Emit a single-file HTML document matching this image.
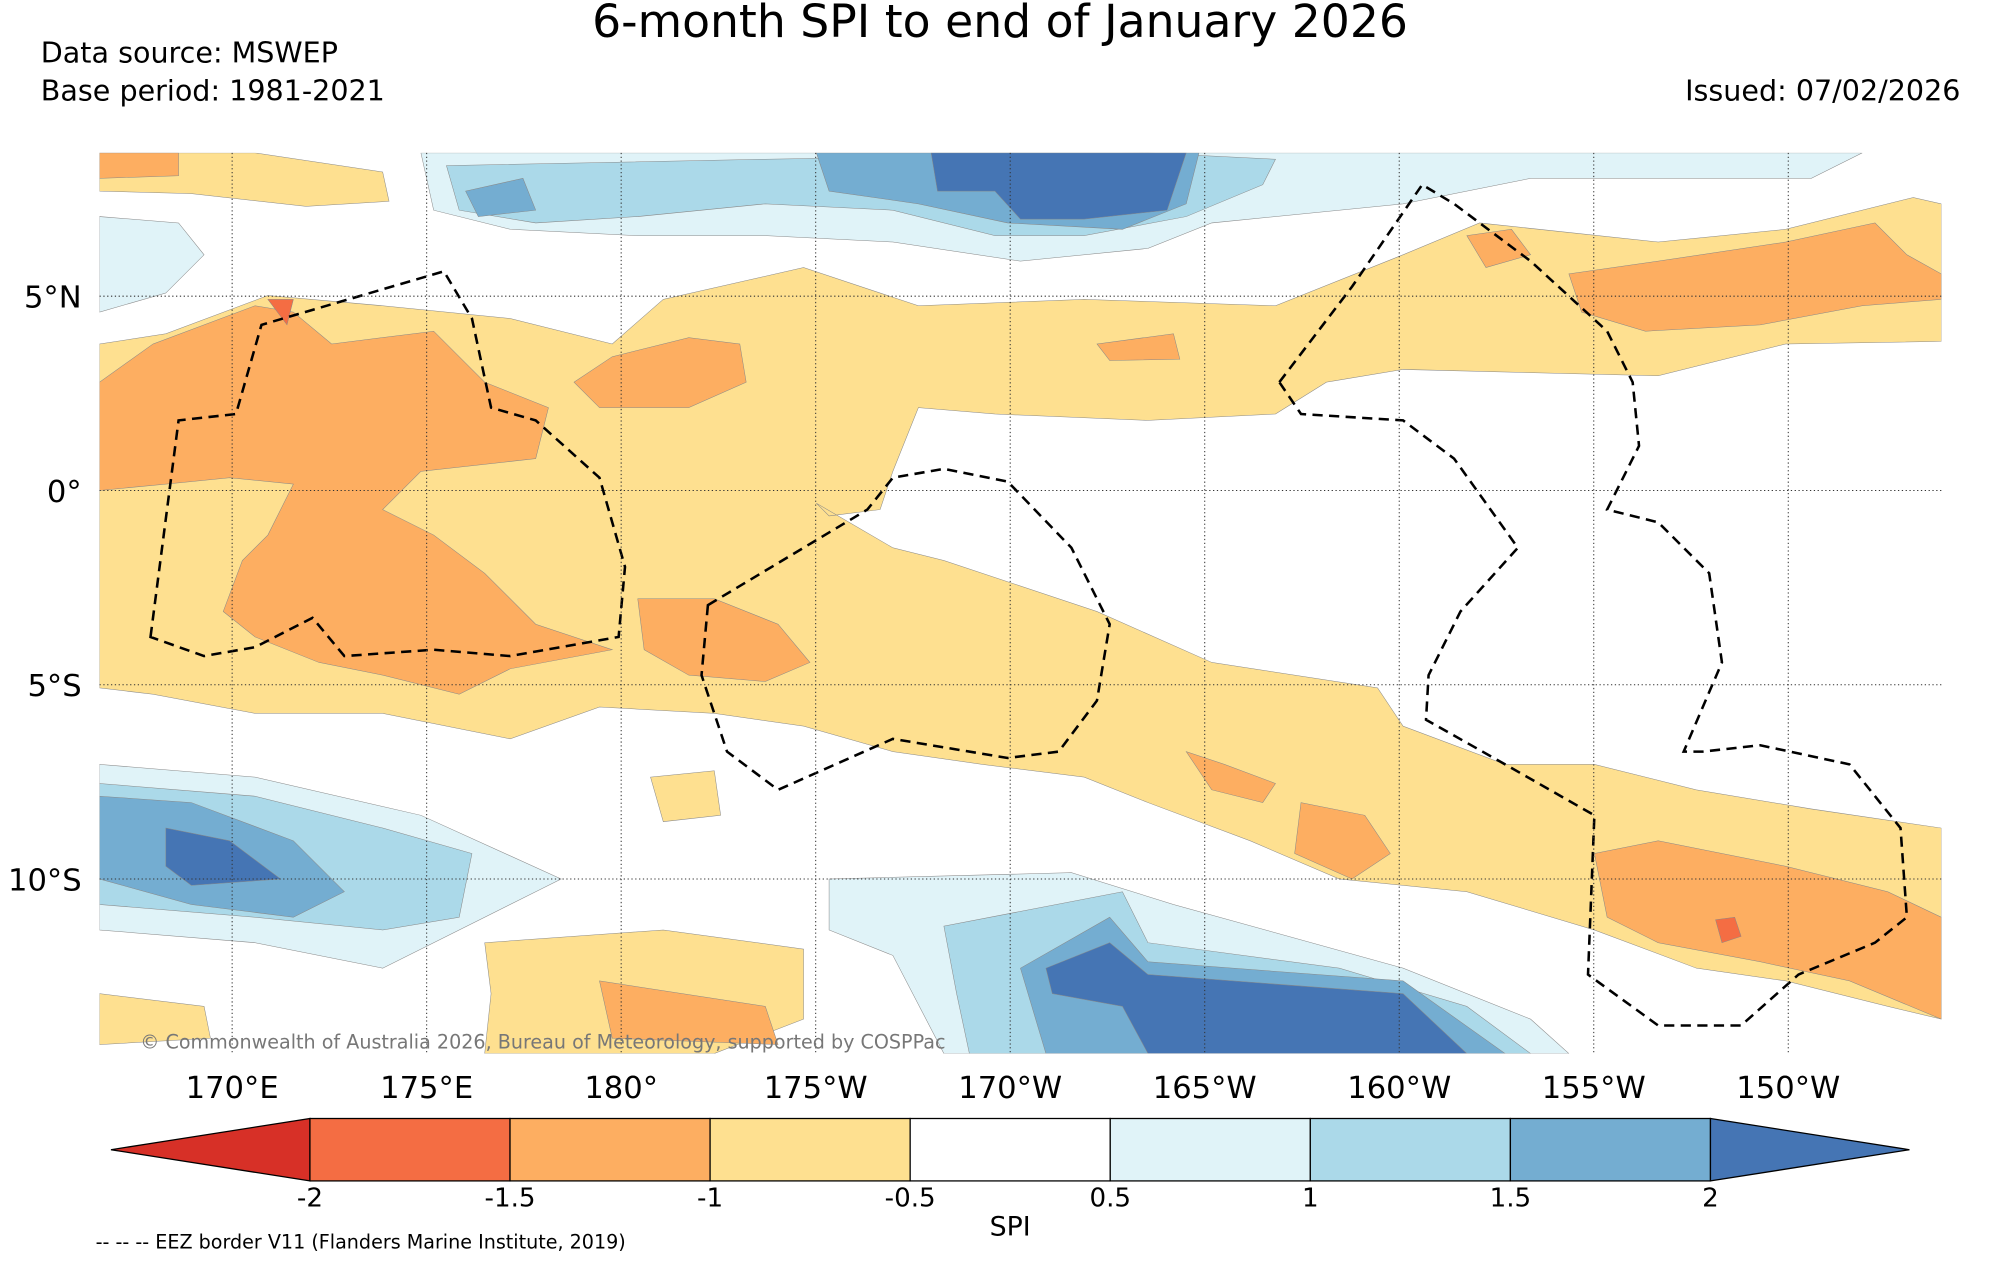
<!DOCTYPE html>
<html><head><meta charset="utf-8"><style>
html,body{margin:0;padding:0;background:#fff;}
svg{display:block;font-family:"DejaVu Sans","Liberation Sans",sans-serif;}
</style></head><body>
<svg id="chart" width="2000" height="1265" viewBox="0 0 1568 993" preserveAspectRatio="none" xmlns="http://www.w3.org/2000/svg">
<rect x="0" y="0" width="1568" height="993" fill="#fff"/>
<text x="784" y="29" font-size="35.8" text-anchor="middle">6-month SPI to end of January 2026</text>
<text x="32" y="49" font-size="22.4">Data source: MSWEP</text>
<text x="32" y="79" font-size="22.4">Base period: 1981-2021</text>
<text x="1537" y="79" font-size="22.4" text-anchor="end">Issued: 07/02/2026</text>
<defs><clipPath id="mapclip"><rect x="78" y="120" width="1444" height="707"/></clipPath></defs>
<g id="map" clip-path="url(#mapclip)"></g>
<g id="axes"></g>
<g id="colorbar"></g>
<text x="792" y="970" font-size="21" text-anchor="middle">SPI</text>
<text x="75" y="980" font-size="15">-- -- -- EEZ border V11 (Flanders Marine Institute, 2019)</text>
</svg>
<script>
const levels=[-2,-1.5,-1,-0.5,0.5,1,1.5,2];
const levelLabels=["-2","-1.5","-1","-0.5","0.5","1","1.5","2"];
const colors=["#d73027","#f46d43","#fdae61","#fee090","#ffffff","#e0f3f8","#abd9e9","#74add1","#4575b4"];
const lonTicks=[170,175,180,185,190,195,200,205,210];
const lonLabels=["170°E","175°E","180°","175°W","170°W","165°W","160°W","155°W","150°W"];
const latTicks=[5,0,-5,-10];
const latLabels=["5°N","0°","5°S","10°S"];
const NS="http://www.w3.org/2000/svg";
const lonX=l=>182+(l-170)*30.5;
const latY=l=>385-l*30.5;
const svg=document.getElementById('chart');
const map=document.getElementById('map');
function mk(t,a,p){const e=document.createElementNS(NS,t);for(const k in a)e.setAttribute(k,a[k]);(p||svg).appendChild(e);return e;}
const shapes=[
["#fee090","78,120 200,120 300,135 305,158 240,162 150,152 78,150"],
["#fdae61","78,120 140,120 140,138 78,140"],
["#e0f3f8","330,120 1460,120 1420,140 1200,140 1100,160 950,175 900,195 800,205 700,190 600,185 500,185 400,180 340,165"],
["#abd9e9","350,130 600,125 900,120 1000,125 990,145 930,170 850,185 780,185 700,165 600,160 500,170 420,175 360,165"],
["#74add1","640,120 940,120 930,160 880,180 790,175 720,160 650,150"],
["#74add1","365,150 410,140 420,165 375,170"],
["#4575b4","730,120 930,120 915,165 850,172 800,172 780,150 735,150"],
["#e0f3f8","78,170 140,175 160,200 130,230 78,245"],
["#fee090","78,270 130,262 210,232 300,240 400,250 480,270 520,235 630,210 720,240 850,235 1000,240 1100,200 1160,175 1300,190 1400,180 1500,155 1522,160 1522,268 1400,270 1300,295 1100,290 1040,300 1000,325 900,330 780,325 720,320 700,370 690,400 650,405 640,395 700,430 740,440 800,460 860,480 950,520 1080,540 1100,570 1180,600 1250,600 1330,620 1420,635 1522,650 1522,800 1480,790 1400,770 1330,760 1250,730 1150,700 1050,690 980,660 900,630 850,610 770,600 700,590 630,570 560,560 470,555 400,580 300,560 200,560 120,545 78,540"],
["#fdae61","78,300 120,270 200,240 230,245 260,270 340,260 380,300 430,320 420,360 330,370 300,400 340,420 380,450 420,490 480,510 400,525 360,545 300,530 250,520 200,500 175,480 190,440 210,420 230,380 180,375 130,380 78,385"],
["#fdae61","480,280 540,265 580,270 585,300 540,320 470,320 450,300"],
["#fdae61","500,470 560,470 610,490 635,520 600,535 540,530 505,510"],
["#fdae61","1020,630 1070,640 1090,670 1060,690 1015,670"],
["#fdae61","1250,670 1300,660 1400,680 1480,700 1522,720 1522,800 1450,770 1380,755 1300,740 1260,720"],
["#fdae61","1230,215 1300,205 1400,190 1470,175 1495,200 1522,215 1522,235 1460,240 1380,255 1290,260 1240,245"],
["#fdae61","1150,185 1185,180 1200,200 1165,210"],
["#fdae61","860,270 920,262 925,282 870,283"],
["#fdae61","930,590 960,600 1000,615 990,630 950,620"],
["#f46d43","1345,722 1360,720 1365,735 1350,740"],
["#f46d43","210,235 230,235 225,255"],
["#e0f3f8","78,600 200,610 330,640 440,690 380,720 300,760 200,740 78,730"],
["#abd9e9","78,615 200,625 300,650 370,670 360,720 300,730 200,720 78,710"],
["#74add1","78,625 150,630 230,660 270,700 230,720 150,710 78,690"],
["#4575b4","130,650 180,660 220,690 150,695 130,680"],
["#e0f3f8","650,690 840,685 920,710 1100,760 1200,800 1230,827 740,827 700,750 650,730"],
["#abd9e9","740,727 880,700 900,740 1050,760 1150,790 1200,827 760,827 750,780"],
["#74add1","800,760 870,720 900,755 1100,770 1180,827 820,827"],
["#4575b4","820,760 870,740 900,765 1100,780 1150,827 900,827 880,790 825,780"],
["#fee090","380,740 520,730 630,745 630,800 560,827 380,827 385,780"],
["#fdae61","470,770 600,790 610,820 480,815"],
["#fee090","78,780 160,790 165,815 78,820"],
["#fee090","510,610 560,605 565,640 520,645"]
];
shapes.forEach(s=>{const p=mk('polygon',{points:s[1],fill:s[0],stroke:'#888','stroke-width':0.4},map);

});
lonTicks.forEach((l,i)=>{const g=mk('line',{x1:lonX(l),x2:lonX(l),y1:120,y2:827,stroke:'#333','stroke-width':0.8,'stroke-dasharray':'1,2'});

const t=mk('text',{x:lonX(l),y:862,'font-size':24,'text-anchor':'middle'});t.textContent=lonLabels[i];
});
latTicks.forEach((l,i)=>{const g=mk('line',{x1:78,x2:1522,y1:latY(l),y2:latY(l),stroke:'#333','stroke-width':0.8,'stroke-dasharray':'1,2'});

const t=mk('text',{x:64,y:latY(l)+9,'font-size':24,'text-anchor':'end'});t.textContent=latLabels[i];
});
const eez=["118,500 140,330 185,325 205,255 348,213 370,250 385,320 420,330 470,375 490,445 485,500 400,515 340,510 270,515 245,485 200,508 160,515 118,500",
"555,475 680,400 700,375 740,368 790,378 840,430 870,490 860,550 830,590 790,595 700,580 610,620 570,590 550,530 555,475",
"1003,300 1060,225 1115,145 1140,160 1200,205 1260,260 1280,300 1285,350 1260,400 1300,410 1340,450 1350,520 1320,590 1335,590 1380,585 1450,600 1490,650 1495,720 1470,740 1410,765 1365,805 1300,805 1245,765 1250,640 1180,600 1118,565 1120,530 1145,480 1190,430 1140,360 1100,330 1020,325 1003,300"];
eez.forEach(pts=>{const e=mk('polygon',{points:pts,fill:'none',stroke:'#000','stroke-width':2,'stroke-dasharray':'8,5'},map);
});
const ct=mk('text',{x:110,y:823,'font-size':15,fill:'#777'});ct.textContent="© Commonwealth of Australia 2026, Bureau of Meteorology, supported by COSPPac";

const cb=document.getElementById('colorbar');
const cbX=v=>243+(levels.indexOf(v))*(1341-243)/7;
const y0=878,y1=927,ym=902.5;
const left=mk('polygon',{points:`87,${ym} ${cbX(levels[0])},${y0} ${cbX(levels[0])},${y1}`,fill:colors[0],stroke:'#000','stroke-width':1},cb);

for(let i=0;i<levels.length-1;i++){const r=mk('rect',{x:cbX(levels[i]),y:y0,width:cbX(levels[i+1])-cbX(levels[i]),height:y1-y0,fill:colors[i+1],stroke:'#000','stroke-width':1},cb);
}
const right=mk('polygon',{points:`1497,${ym} ${cbX(levels[7])},${y0} ${cbX(levels[7])},${y1}`,fill:colors[8],stroke:'#000','stroke-width':1},cb);

levels.forEach((v,i)=>{const t=mk('text',{x:cbX(v),y:947,'font-size':20.5,'text-anchor':'middle'},cb);t.textContent=levelLabels[i];
});
</script>
</body></html>
